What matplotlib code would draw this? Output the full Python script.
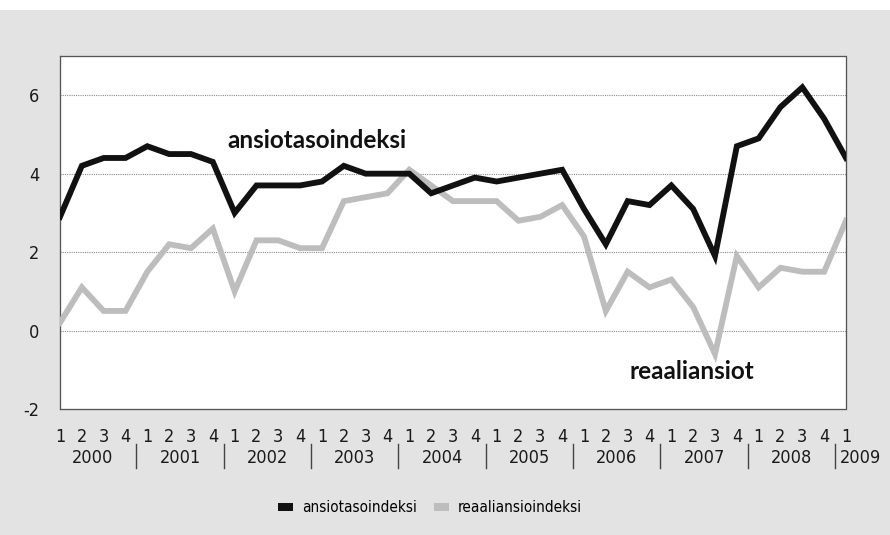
import matplotlib
matplotlib.use("Agg")
import matplotlib.pyplot as plt
import matplotlib.transforms as mtransforms
from matplotlib.patches import Rectangle, Patch
from matplotlib.lines import Line2D
from matplotlib.font_manager import fontManager

years = ["2000", "2001", "2002", "2003", "2004", "2005", "2006", "2007", "2008", "2009"]
quarters = ["1", "2", "3", "4"] * 9 + ["1"]

ansiotasoindeksi = [2.9, 4.2, 4.4, 4.4,
                    4.7, 4.5, 4.5, 4.3,
                    3.0, 3.7, 3.7, 3.7,
                    3.8, 4.2, 4.0, 4.0,
                    4.0, 3.5, 3.7, 3.9,
                    3.8, 3.9, 4.0, 4.1,
                    3.1, 2.2, 3.3, 3.2,
                    3.7, 3.1, 1.9, 4.7,
                    4.9, 5.7, 6.2, 5.4,
                    4.4]
reaaliansiot = [0.2, 1.1, 0.5, 0.5,
                1.5, 2.2, 2.1, 2.6,
                1.0, 2.3, 2.3, 2.1,
                2.1, 3.3, 3.4, 3.5,
                4.1, 3.7, 3.3, 3.3,
                3.3, 2.8, 2.9, 3.2,
                2.4, 0.5, 1.5, 1.1,
                1.3, 0.6, -0.6, 1.9,
                1.1, 1.6, 1.5, 1.5,
                2.8]

label_black = "ansiotasoindeksi"
label_gray = "reaaliansioindeksi"
ann_black = "ansiotasoindeksi"
ann_gray = "reaaliansiot"

names = {f.name for f in fontManager.ttflist}
cond = [f for f in fontManager.ttflist if f.name == "DejaVu Sans" and f.stretch == "condensed"]
if "Liberation Sans Narrow" in names:
    TFONT = dict(family="Liberation Sans Narrow")
elif cond:
    TFONT = dict(family="DejaVu Sans", stretch="condensed")
else:
    TFONT = dict(family="Roboto")

BLACK = "#111111"
GRAY = "#bdbdbd"
BG = "#e3e3e3"

fig = plt.figure(figsize=(8.9, 5.35), dpi=100, facecolor=BG)
fig.patches.append(Rectangle((0, 1 - 10 / 535), 1, 10 / 535, transform=fig.transFigure,
                             facecolor="white", edgecolor="none", zorder=0))

ax = fig.add_axes([60 / 890, 1 - 409 / 535, (846 - 60) / 890, (409 - 56) / 535])
ax.set_facecolor("white")

x = list(range(len(ansiotasoindeksi)))
ax.plot(x, reaaliansiot, color=GRAY, lw=4.2, solid_joinstyle="miter", zorder=3)
ax.plot(x, ansiotasoindeksi, color=BLACK, lw=4.2, solid_joinstyle="miter", zorder=4)

ax.set_xlim(0, len(x) - 1)
ax.set_ylim(-2, 7)
ax.set_yticks([-2, 0, 2, 4, 6])
ax.set_yticklabels(["-2", "0", "2", "4", "6"], fontsize=13, color="#1a1a1a", **TFONT)
for yv in [0, 2, 4, 6]:
    ax.axhline(yv, color="#8a8a8a", lw=0.8, ls=(0, (1, 1)), zorder=1)

ax.set_xticks(x)
ax.set_xticklabels(quarters, fontsize=13, color="#1a1a1a", **TFONT)
ax.tick_params(axis="both", length=0)
ax.tick_params(axis="x", pad=14)
ax.tick_params(axis="y", pad=15)

for sp in ax.spines.values():
    sp.set_color("#555555")
    sp.set_linewidth(0.9)
    sp.set_linestyle((0, (1, 0.6)))

trans = mtransforms.blended_transform_factory(ax.transData, fig.transFigure)
y_year = 1 - 458 / 535
for i, yr in enumerate(years):
    if i < len(years) - 1:
        ax.text(i * 4 + 1.5, y_year, yr, transform=trans, ha="center", va="center",
                fontsize=13, color="#1a1a1a", **TFONT)
    else:
        ax.text(i * 4 - 0.3, y_year, yr, transform=trans, ha="left", va="center",
                fontsize=13, color="#1a1a1a", **TFONT)
    if i > 0:
        xs = i * 4 - 0.5
        ax.add_line(Line2D([xs, xs], [1 - 444 / 535, 1 - 468 / 535], transform=trans,
                           color="#444444", lw=1.0, clip_on=False))

ax.text(11.75, 4.85, ann_black, family="Lato", fontweight="bold", fontsize=17.5,
        ha="center", va="center", color=BLACK, zorder=5)
ax.text(28.95, -1.05, ann_gray, family="Lato", fontweight="bold", fontsize=17.5,
        ha="center", va="center", color=BLACK, zorder=5)

handles = [Patch(facecolor=BLACK, edgecolor="none", label=label_black),
           Patch(facecolor=GRAY, edgecolor="none", label=label_gray)]
fig.legend(handles=handles, loc="center", bbox_to_anchor=(430 / 890, 1 - 508 / 535), ncol=2,
           frameon=False, prop=dict(size=11, **TFONT), handlelength=1.0, handleheight=0.5,
           handletextpad=0.6, columnspacing=1.1)

fig.savefig("out.png", dpi=100, facecolor=BG)
